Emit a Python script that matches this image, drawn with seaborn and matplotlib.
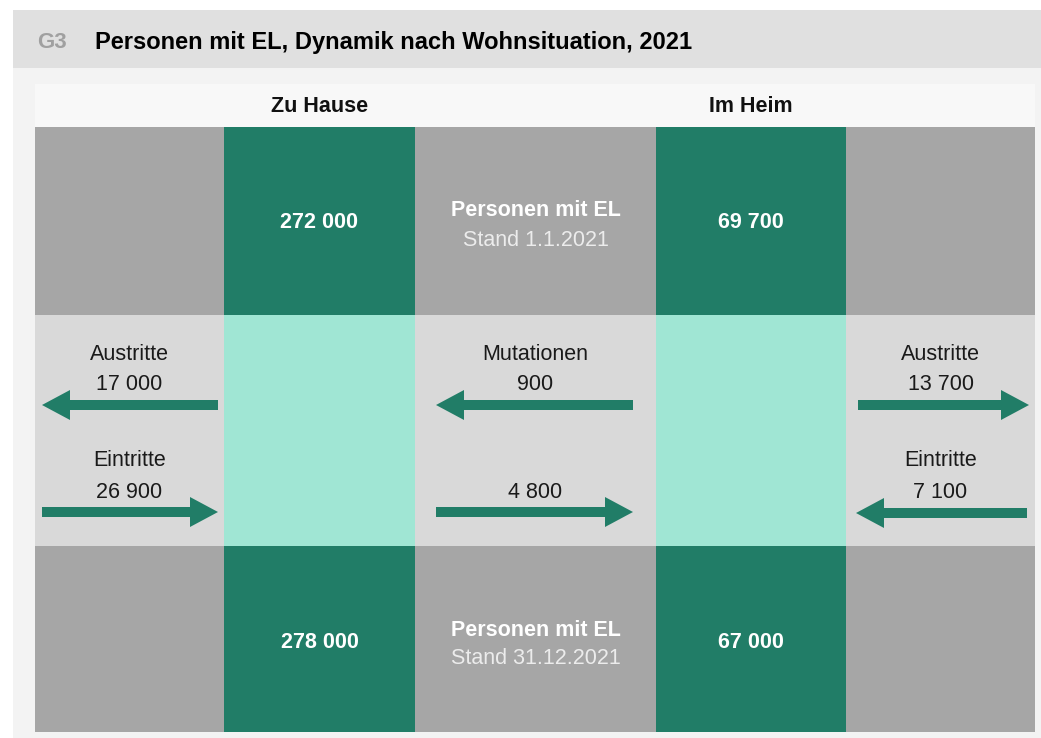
import matplotlib.pyplot as plt
from matplotlib.patches import Rectangle, FancyArrow
import seaborn as sns

# data
groups = ["Zu Hause", "Im Heim"]
stand_start = [272000, 69700]      # Personen mit EL, Stand 1.1.2021
stand_end = [278000, 67000]        # Personen mit EL, Stand 31.12.2021
austritte = [17000, 13700]
eintritte = [26900, 7100]
mutation_to_home = 900             # Im Heim -> Zu Hause
mutation_to_heim = 4800            # Zu Hause -> Im Heim

def fmt(v):
    return f"{v:,}".replace(",", " ")

sns.set_theme(style="white")
plt.rcParams["font.family"] = ["Liberation Sans", "DejaVu Sans"]

GRAY = "#a6a6a6"
GREEN = "#217d67"
TEAL = "#a0e6d4"
MID = "#d9d9d9"
FS = 15.5
DY = 2  # small baseline correction

fig = plt.figure(figsize=(10.41, 7.38), dpi=100)
ax = fig.add_axes([0, 0, 1, 1])
ax.set_xlim(0, 1041)
ax.set_ylim(738, 0)
ax.axis("off")

# frame: title band and panel
ax.add_patch(Rectangle((13, 10), 1028, 58, color="#e0e0e0", lw=0))
ax.add_patch(Rectangle((13, 68), 1028, 670, color="#f3f3f3", lw=0))
ax.add_patch(Rectangle((35, 84), 1000, 43, color="#f8f8f8", lw=0))
ax.text(37, 42, "G3", fontsize=16, fontweight="bold", color="#a0a0a0", va="center")
ax.text(95, 42, "Personen mit EL, Dynamik nach Wohnsituation, 2021", fontsize=17,
        fontweight="bold", color="black", va="center")

# grid of blocks
col_edges = [35, 224, 415, 656, 846, 1035]
row_edges = [127, 315, 546, 732]
colors = [[GRAY, GREEN, GRAY, GREEN, GRAY],
          [MID, TEAL, MID, TEAL, MID],
          [GRAY, GREEN, GRAY, GREEN, GRAY]]
for r in range(3):
    for c in range(5):
        ax.add_patch(Rectangle((col_edges[c], row_edges[r]), col_edges[c + 1] - col_edges[c],
                               row_edges[r + 1] - row_edges[r], color=colors[r][c], lw=0))

centers = [(col_edges[1] + col_edges[2]) / 2, (col_edges[3] + col_edges[4]) / 2]
mid_x = (col_edges[2] + col_edges[3]) / 2

for i, g in enumerate(groups):
    ax.text(centers[i], 104 + DY, g, fontsize=FS, fontweight="bold", ha="center", va="center", color="#111111")
    ax.text(centers[i], 221 + DY, fmt(stand_start[i]), fontsize=FS, fontweight="bold", ha="center",
            va="center", color="white")
    ax.text(centers[i], 640 + DY, fmt(stand_end[i]), fontsize=FS, fontweight="bold", ha="center",
            va="center", color="white")

ax.text(mid_x, 208 + DY, "Personen mit EL", fontsize=FS, fontweight="bold", ha="center", va="center", color="white")
ax.text(mid_x, 238 + DY, "Stand 1.1.2021", fontsize=FS, ha="center", va="center", color="#ececec")
ax.text(mid_x, 628 + DY, "Personen mit EL", fontsize=FS, fontweight="bold", ha="center", va="center", color="white")
ax.text(mid_x, 657 + DY, "Stand 31.12.2021", fontsize=FS, ha="center", va="center", color="#ececec")

def arrow(x0, x1, y):
    ax.add_patch(FancyArrow(x0, y, x1 - x0, 0, width=10, head_width=30, head_length=28,
                            length_includes_head=True, color=GREEN, lw=0))

def label(x, y, txt):
    ax.text(x, y + DY, txt, fontsize=FS, ha="center", va="center", color="#1a1a1a")

# left side: Zu Hause
lx = (35 + 224) / 2
label(lx, 353, "Austritte")
label(lx, 383, fmt(austritte[0]))
arrow(218, 42, 405)
label(lx, 459, "Eintritte")
label(lx, 490, fmt(eintritte[0]))
arrow(42, 218, 512)

# middle: Mutationen
label(mid_x, 353, "Mutationen")
label(mid_x, 383, fmt(mutation_to_home))
arrow(633, 436, 405)
label(mid_x, 490, fmt(mutation_to_heim))
arrow(436, 633, 512)

# right side: Im Heim
rx = (846 + 1035) / 2
label(rx, 353, "Austritte")
label(rx, 383, fmt(austritte[1]))
arrow(858, 1029, 405)
label(rx, 459, "Eintritte")
label(rx, 490, fmt(eintritte[1]))
arrow(1027, 856, 513)

fig.savefig("out.png", dpi=100, facecolor="white")
